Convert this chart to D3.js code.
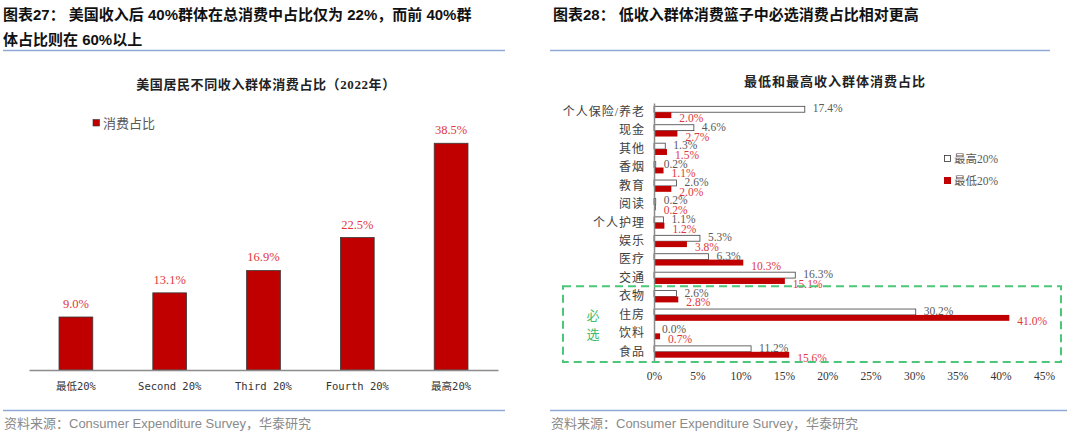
<!DOCTYPE html>
<html>
<head>
<meta charset="utf-8">
<script src="https://cdn.jsdelivr.net/npm/d3@7/dist/d3.min.js"></script>
<style>
  body { margin: 0; background: #fff; }
  svg { display: block; }
</style>
</head>
<body>
<svg id="chart" width="1080" height="433"></svg>
<script>
// left chart: share of consumption by income quintile (2022)
var groups = ["最低20%", "Second 20%", "Third 20%", "Fourth 20%", "最高20%"];
var shares = [9.0, 13.1, 16.9, 22.5, 38.5];

// right chart: basket shares, highest vs lowest 20%
var items = ["个人保险/养老", "现金", "其他", "香烟", "教育", "阅读", "个人护理",
             "娱乐", "医疗", "交通", "衣物", "住房", "饮料", "食品"];
var top20 = [17.4, 4.6, 1.3, 0.2, 2.6, 0.2, 1.1, 5.3, 6.3, 16.3, 2.6, 30.2, 0.0, 11.2];
var low20 = [2.0, 2.7, 1.5, 1.1, 2.0, 0.2, 1.2, 3.8, 10.3, 15.1, 2.8, 41.0, 0.7, 15.6];
var xTicks = [0, 5, 10, 15, 20, 25, 30, 35, 40, 45];
var mustHave = ["衣物", "住房", "饮料", "食品"];

var sansBold = "'Liberation Sans', 'Noto Sans CJK SC', sans-serif";
var serif = "'Liberation Serif', 'Noto Sans CJK SC', serif";
var red = "#C00000", redText = "#E0383C", grayText = "#595959", blueLine = "#8EA9D6";

var svg = d3.select("#chart");

// ---- headers and footers
function header(x, lines) {
  lines.forEach(function(t, i) {
    svg.append("text").attr("x", x).attr("y", 20 + i * 25)
      .attr("font-family", sansBold).attr("font-weight", "bold")
      .attr("font-size", 15).attr("fill", "#111").text(t);
  });
}
header(3, ["图表27： 美国收入后 40%群体在总消费中占比仅为 22%，而前 40%群", "体占比则在 60%以上"]);
header(553, ["图表28： 低收入群体消费篮子中必选消费占比相对更高"]);

[[3, 505], [550, 1050]].forEach(function(d) {
  svg.append("line").attr("x1", d[0]).attr("x2", d[1]).attr("y1", 50.5).attr("y2", 50.5)
    .attr("stroke", blueLine).attr("stroke-width", 1.5);
});
[[3, 505], [550, 1067]].forEach(function(d) {
  svg.append("line").attr("x1", d[0]).attr("x2", d[1]).attr("y1", 410.5).attr("y2", 410.5)
    .attr("stroke", blueLine).attr("stroke-width", 1.5);
  svg.append("text").attr("x", d[0] + 1).attr("y", 428)
    .attr("font-family", "'Liberation Sans', 'Noto Sans CJK SC', sans-serif")
    .attr("font-size", 13).attr("fill", "#8a8a8a")
    .text("资料来源：Consumer Expenditure Survey，华泰研究");
});

// ---- left chart
svg.append("text").attr("x", 266).attr("y", 89).attr("text-anchor", "middle")
  .attr("font-family", serif).attr("font-weight", "bold").attr("font-size", 13)
  .attr("letter-spacing", 0.6).attr("fill", "#222")
  .text("美国居民不同收入群体消费占比（2022年）");

var x1 = d3.scaleBand().domain(groups).range([29, 498]).paddingInner(0.64).paddingOuter(0.32);
var y1 = d3.scaleLinear().domain([0, 45]).range([370, 105]);

var left = svg.append("g");
left.selectAll("rect").data(shares).enter().append("rect")
  .attr("x", function(d, i) { return x1(groups[i]); })
  .attr("y", function(d) { return y1(d); })
  .attr("width", x1.bandwidth())
  .attr("height", function(d) { return y1(0) - y1(d); })
  .attr("fill", red).attr("stroke", "#3a3a3a").attr("stroke-width", 0.8);

left.selectAll("text.v").data(shares).enter().append("text")
  .attr("x", function(d, i) { return x1(groups[i]) + x1.bandwidth() / 2; })
  .attr("y", function(d) { return y1(d) - 9; })
  .attr("text-anchor", "middle").attr("font-family", serif).attr("font-size", 12.5)
  .attr("fill", redText).text(function(d) { return d.toFixed(1) + "%"; });

var xAxis1 = left.append("g").attr("transform", "translate(0,370)")
  .call(d3.axisBottom(x1).tickSize(0).tickPadding(13));
xAxis1.select(".domain").attr("stroke", "#8c8c8c").attr("stroke-width", 1.5);
xAxis1.selectAll("text").attr("font-family", "'DejaVu Sans Mono', 'Noto Sans CJK SC', monospace")
  .attr("font-size", 10.5).attr("fill", "#333");

// legend
left.append("rect").attr("x", 93).attr("y", 119.5).attr("width", 6.5).attr("height", 6.5)
  .attr("fill", red).attr("stroke", "#333").attr("stroke-width", 0.6);
left.append("text").attr("x", 103).attr("y", 128).attr("font-family", serif)
  .attr("font-size", 13).attr("fill", grayText).text("消费占比");

// ---- right chart
svg.append("text").attr("x", 835).attr("y", 86).attr("text-anchor", "middle")
  .attr("font-family", serif).attr("font-weight", "bold").attr("font-size", 13)
  .attr("letter-spacing", 1).attr("fill", "#222").text("最低和最高收入群体消费占比");

var x2 = d3.scaleLinear().domain([0, 45]).range([654, 1044]);
var y2 = d3.scaleBand().domain(items).range([103, 361]).paddingInner(0.36).paddingOuter(0.18);
var ys = d3.scaleBand().domain(["top", "low"]).range([0, y2.bandwidth()]);

var right = svg.append("g");
var rows = right.selectAll("g.row").data(items).enter().append("g")
  .attr("transform", function(d) { return "translate(0," + y2(d) + ")"; });

rows.append("rect").attr("x", x2(0)).attr("y", ys("top"))
  .attr("width", function(d, i) { return x2(top20[i]) - x2(0); })
  .attr("height", ys.bandwidth())
  .attr("fill", "#fff").attr("stroke", "#404040").attr("stroke-width", 0.8);
rows.append("rect").attr("x", x2(0)).attr("y", ys("low"))
  .attr("width", function(d, i) { return x2(low20[i]) - x2(0); })
  .attr("height", ys.bandwidth())
  .attr("fill", red);

rows.append("text").attr("x", function(d, i) { return x2(top20[i]) + 8; })
  .attr("y", ys("top") + 6).attr("font-family", serif).attr("font-size", 11.5)
  .attr("fill", grayText).text(function(d, i) { return top20[i].toFixed(1) + "%"; });
rows.append("text").attr("x", function(d, i) { return x2(low20[i]) + 8; })
  .attr("y", ys("low") + 10).attr("font-family", serif).attr("font-size", 11.5)
  .attr("fill", redText).text(function(d, i) { return low20[i].toFixed(1) + "%"; });

var yAxis2 = right.append("g").attr("transform", "translate(" + x2(0) + ",0)")
  .call(d3.axisLeft(y2).tickSize(0).tickPadding(9));
yAxis2.select(".domain").attr("stroke", "#8c8c8c").attr("stroke-width", 1.5);
yAxis2.selectAll("text").attr("font-family", serif).attr("font-size", 12)
  .attr("letter-spacing", 1).attr("fill", "#404040");

var xAxis2 = right.append("g").attr("transform", "translate(0,366)")
  .call(d3.axisBottom(x2).tickValues(xTicks).tickSize(0).tickPadding(6)
    .tickFormat(function(d) { return d + "%"; }));
xAxis2.select(".domain").remove();
xAxis2.selectAll("text").attr("font-family", serif).attr("font-size", 11.5).attr("fill", "#333");

// dashed box around must-have categories
var boxTop = y2(mustHave[0]) - y2.step() * y2.paddingInner() / 2 - 1;
var boxBottom = y2(mustHave[mustHave.length - 1]) + y2.bandwidth() + y2.step() * y2.paddingInner() / 2 + 1;
right.append("rect").attr("x", 563).attr("y", boxTop)
  .attr("width", 1061 - 563).attr("height", boxBottom - boxTop)
  .attr("fill", "none").attr("stroke", "#4CC77A").attr("stroke-width", 2)
  .attr("stroke-dasharray", "8,5");
right.append("text").attr("x", 593).attr("y", 320).attr("text-anchor", "middle")
  .attr("font-family", serif).attr("font-size", 13).attr("fill", "#3DBB6A").text("必");
right.append("text").attr("x", 593).attr("y", 339).attr("text-anchor", "middle")
  .attr("font-family", serif).attr("font-size", 13).attr("fill", "#3DBB6A").text("选");

// legend
var leg = right.append("g").attr("transform", "translate(944,155)");
leg.append("rect").attr("x", 0.5).attr("y", 0.5).attr("width", 6).attr("height", 6)
  .attr("fill", "#fff").attr("stroke", "#333").attr("stroke-width", 0.8);
leg.append("text").attr("x", 10).attr("y", 8).attr("font-family", serif)
  .attr("font-size", 11.5).attr("fill", grayText).text("最高20%");
leg.append("rect").attr("x", 0).attr("y", 22).attr("width", 7).attr("height", 7).attr("fill", red);
leg.append("text").attr("x", 10).attr("y", 30).attr("font-family", serif)
  .attr("font-size", 11.5).attr("fill", grayText).text("最低20%");
</script>
</body>
</html>
